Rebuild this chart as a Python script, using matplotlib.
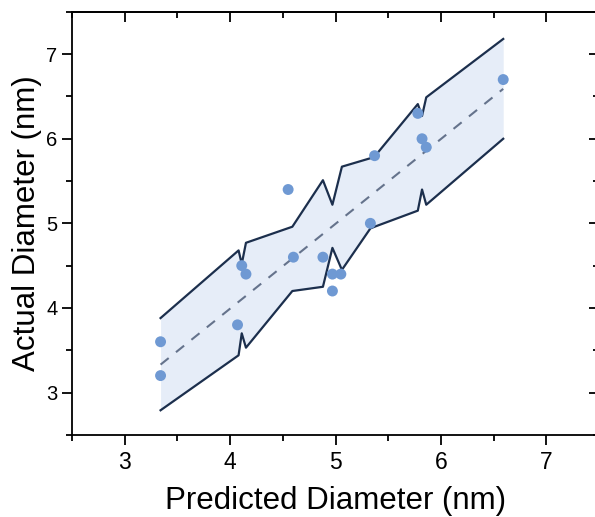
import matplotlib
matplotlib.use("Agg")
import matplotlib.pyplot as plt
from matplotlib.ticker import MultipleLocator

plt.rcParams['font.family'] = ['Liberation Sans', 'DejaVu Sans']

# measured points
pred = [3.34, 3.34, 4.07, 4.11, 4.15, 4.55, 4.60, 4.88, 4.97, 4.97, 5.05, 5.33, 5.37, 5.78, 5.82, 5.86, 6.59]
actual = [3.6, 3.2, 3.8, 4.5, 4.4, 5.4, 4.6, 4.6, 4.4, 4.2, 4.4, 5.0, 5.8, 6.3, 6.0, 5.9, 6.7]

# fitted line (dashed)
fit_x = [3.34, 6.59]
fit_y = [3.33, 6.59]

# band edges
band_x = [3.34, 4.08, 4.11, 4.15, 4.59, 4.88, 4.97, 5.06, 5.33, 5.37, 5.78, 5.82, 5.86, 6.59]
band_hi = [3.88, 4.68, 4.52, 4.77, 4.96, 5.51, 5.22, 5.67, 5.77, 5.79, 6.41, 6.27, 6.49, 7.18]
band_lo = [2.79, 3.44, 3.70, 3.53, 4.20, 4.25, 4.71, 4.45, 4.94, 4.96, 5.15, 5.40, 5.22, 6.00]

line_col = '#1c2f4d'
fill_col = '#e6edf8'
dot_col = '#6f99d3'

fig = plt.figure(figsize=(5.95, 5.17), dpi=100)
ax = fig.add_axes([0.121, 0.159, 0.886, 0.818])

ax.fill_between(band_x, band_lo, band_hi, color=fill_col, lw=0, zorder=1)
ax.plot(band_x, band_hi, color=line_col, lw=1.6, zorder=2)
ax.plot(band_x, band_lo, color=line_col, lw=1.6, zorder=2)
ax.plot(fit_x, fit_y, color='#65738c', lw=1.5, ls=(0, (5, 4.5)), zorder=3)
ax.scatter(pred, actual, s=62, color=dot_col, edgecolors='none', zorder=4)

ax.set_xlim(2.5, 7.5)
ax.set_ylim(2.5, 7.5)
for a in (ax.xaxis, ax.yaxis):
    a.set_major_locator(MultipleLocator(1))
    a.set_minor_locator(MultipleLocator(0.5))

for s in ax.spines.values():
    s.set_linewidth(1.3)

ax.tick_params(which='major', direction='out', length=7, width=1.3)
ax.tick_params(which='minor', direction='out', length=4, width=1.3)
ax.tick_params(axis='x', labelsize=16.5, pad=5)
ax.tick_params(axis='y', labelsize=14.5)

top = ax.secondary_xaxis('top')
right = ax.secondary_yaxis('right')
for sec, axis in ((top, top.xaxis), (right, right.yaxis)):
    axis.set_major_locator(MultipleLocator(1))
    axis.set_minor_locator(MultipleLocator(0.5))
    sec.tick_params(which='major', direction='in', length=7, width=1.3)
    sec.tick_params(which='minor', direction='in', length=4, width=1.3)
    sec.spines[:].set_linewidth(1.3)
top.tick_params(labeltop=False)
right.tick_params(labelright=False)

ax.set_xlabel('Predicted Diameter (nm)', fontsize=22.5)
ax.xaxis.set_label_coords(0.5, -0.121)
ax.set_ylabel('Actual Diameter (nm)', fontsize=22.5)
ax.yaxis.set_label_coords(-0.057, 0.5)

fig.savefig('out.png', dpi=100)
